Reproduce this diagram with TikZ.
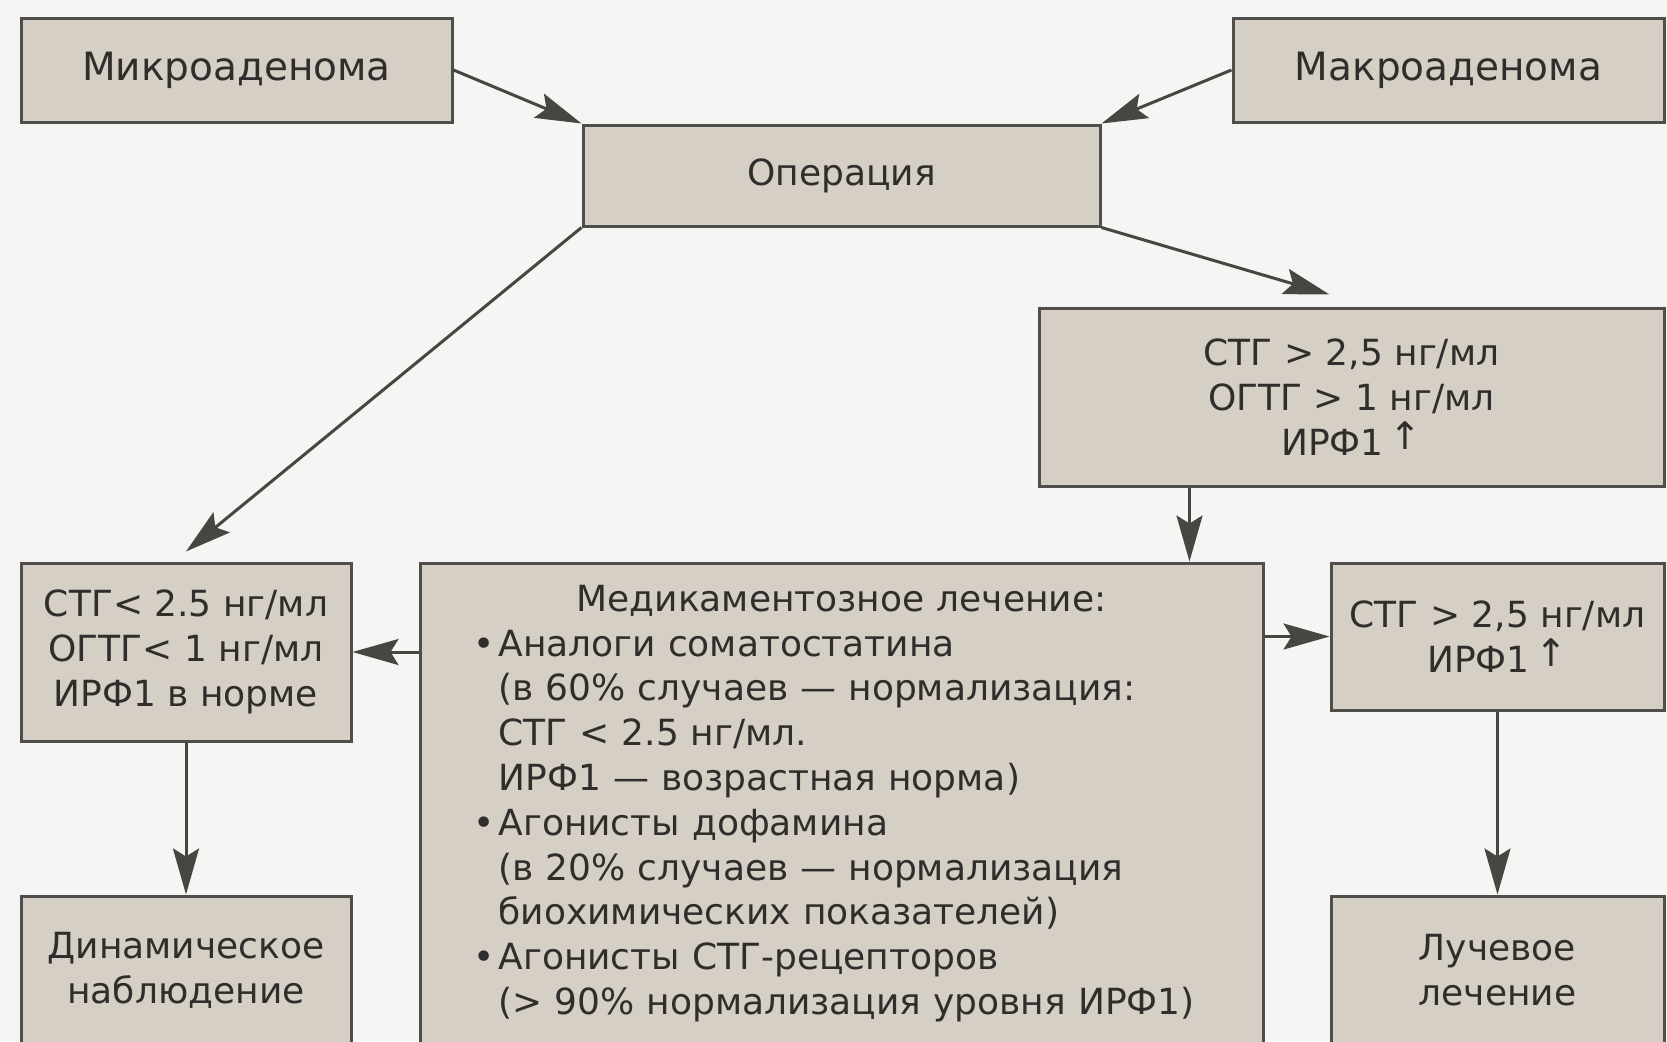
\documentclass[tikz,border=0pt]{standalone}
\usepackage{fontspec}
\setmainfont{DejaVu Sans}
\usepackage{tikz}
\usetikzlibrary{positioning, calc, arrows.meta}

\definecolor{paper}{RGB}{245,245,243}
\definecolor{boxfill}{RGB}{213,207,197}
\definecolor{boxline}{RGB}{80,78,74}
\definecolor{ink}{RGB}{48,46,44}
\definecolor{arrowc}{RGB}{72,70,67}

\newcommand{\bodyfont}{\fontsize{18}{22.4}\selectfont}
\newcommand{\up}{\,\raisebox{0.3ex}{\fontsize{19}{19}\selectfont ↑}}
\newcommand{\pnt}{\makebox[12.5pt][l]{•}}
\newcommand{\cnt}{\hspace*{12.5pt}}

\tikzset{
    box/.style={draw=boxline, fill=boxfill, line width=1.5pt, text=ink,
        align=center, inner sep=0pt, font=\bodyfont},
    arr/.style={draw=arrowc, line width=1.5pt,
        -{Stealth[length=23pt, width=13pt, inset=4pt]}}
}

\begin{document}
\begin{tikzpicture}[x=0.5pt, y=-0.5pt]
        % the page
        \clip (0,0) rectangle (1667,1041);
        \fill[paper] (0,0) rectangle (1667,1041);

        % top row
        \node[box, minimum width=215.5pt, minimum height=52pt, font=\fontsize{19.5}{23}\selectfont] (micro) at (236.5,70) {Микроаденома};
        \node[box, minimum width=215.5pt, minimum height=52pt, font=\fontsize{19.5}{23}\selectfont] (macro) at (1448.5,70) {Макроаденома};
        \node[box, minimum width=258.5pt, minimum height=50.5pt] (oper) at (841.5,175.5) {Операция};

        % after the operation
        \node[box, minimum width=312.5pt, minimum height=89pt] (high) at (1351.5,397)
            {СТГ > 2,5 нг/мл\\ ОГТГ > 1 нг/мл\\ ИРФ1\up};
        \node[box, minimum width=165pt, minimum height=89pt] (norm) at (186,652)
            {СТГ< 2.5 нг/мл\\ ОГТГ< 1 нг/мл\\ ИРФ1 в норме};
        \node[box, minimum width=421.5pt, minimum height=240.5pt, text width=368pt, align=left] (drug) at (841.5,803.5)
            {\makebox[368pt][c]{Медикаментозное лечение:}\\
             \pnt Аналоги соматостатина\\
             \cnt(в 60\% случаев — нормализация:\\
             \cnt СТГ < 2.5 нг/мл.\\
             \cnt ИРФ1 — возрастная норма)\\
             \pnt Агонисты дофамина\\
             \cnt(в 20\% случаев — нормализация\\
             \cnt биохимических показателей)\\
             \pnt Агонисты СТГ-рецепторов\\
             \cnt(> 90\% нормализация уровня ИРФ1)};
        \node[box, minimum width=166.5pt, minimum height=73.5pt] (high2) at (1497.5,636.5)
            {СТГ > 2,5 нг/мл\\ ИРФ1\up};

        % bottom row
        \node[box, minimum width=165pt, minimum height=74pt] (watch) at (186,970)
            {Динамическое\\ наблюдение};
        \node[box, minimum width=166.5pt, minimum height=74pt] (ray) at (1497.5,970)
            {Лучевое\\ лечение};

        % arrows
        \draw[arr] (micro.east) -- (oper.north west);
        \draw[arr] (macro.west) -- (oper.north east);
        \draw[arr] (oper.south west) -- ([yshift=5pt]norm.north);
        \draw[arr] (oper.south east) -- ([xshift=-11pt, yshift=6pt]high.north);
        \draw[arr] ([xshift=76pt]high.south west) -- ([xshift=76pt]high.south west |- drug.north);
        \draw[arr] (drug.west |- norm) -- (norm.east);
        \draw[arr] (drug.east |- high2) -- (high2.west);
        \draw[arr] (norm.south) -- (watch.north);
        \draw[arr] (high2.south) -- (ray.north);
    \end{tikzpicture}
\end{document}
